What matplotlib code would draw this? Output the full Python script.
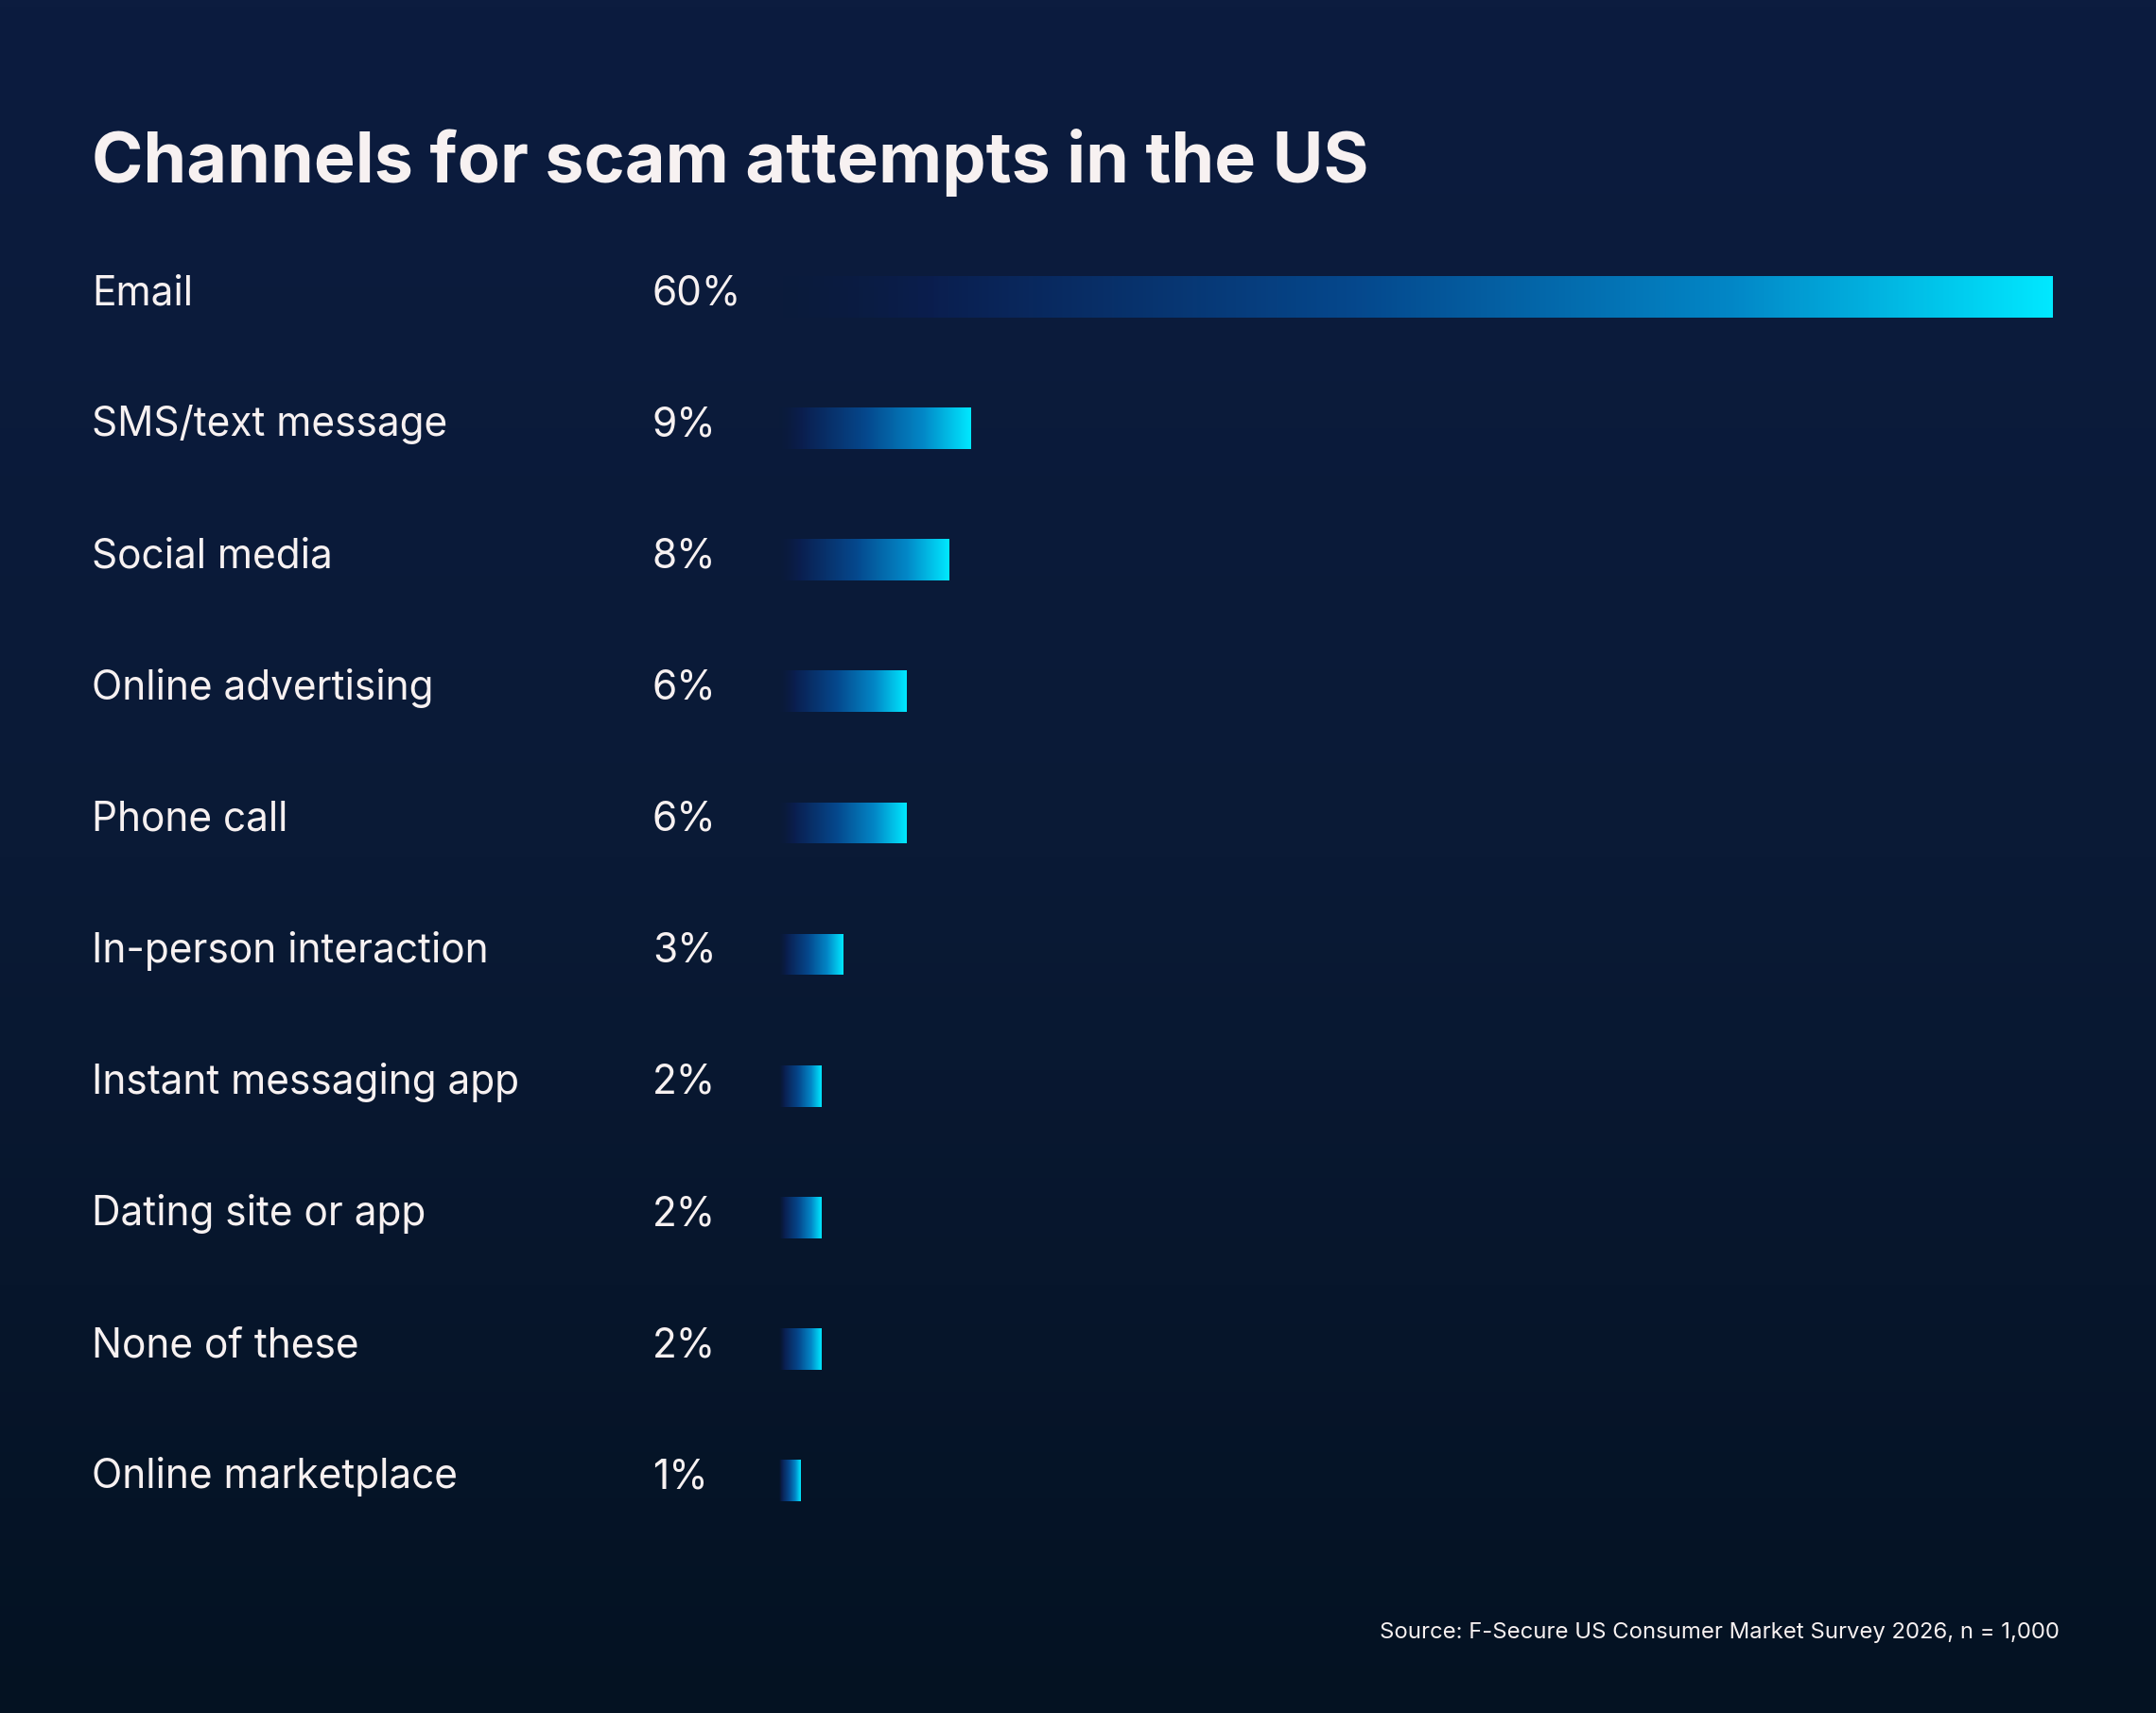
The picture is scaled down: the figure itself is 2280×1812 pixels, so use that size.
import numpy as np
import matplotlib
matplotlib.use("Agg")
import matplotlib.pyplot as plt
from matplotlib.colors import LinearSegmentedColormap
from matplotlib.transforms import blended_transform_factory

categories = ["Email", "SMS/text message", "Social media", "Online advertising",
              "Phone call", "In-person interaction", "Instant messaging app",
              "Dating site or app", "None of these", "Online marketplace"]
values = [60, 9, 8, 6, 6, 3, 2, 2, 2, 1]
value_labels = ["60%", "9%", "8%", "6%", "6%", "3%", "2%", "2%", "2%", "1%"]
title = "Channels for scam attempts in the US"
source = "Source: F-Secure US Consumer Market Survey 2026, n = 1,000"

W, H = 2280, 1812
fig = plt.figure(figsize=(W / 100, H / 100), dpi=100)

# background vertical gradient
bg = fig.add_axes([0, 0, 1, 1])
bg_cmap = LinearSegmentedColormap.from_list("bg", ["#0c1c3f", "#0a1a36", "#041222"])
grad = np.linspace(0, 1, 512).reshape(-1, 1)
bg.imshow(grad, aspect="auto", cmap=bg_cmap, extent=[0, 1, 0, 1], origin="upper")
bg.set_axis_off()

txt_color = "#f7f1f1"
font = "Inter"

fig.text(0.0427, 0.8935, title, fontsize=53, fontweight="bold", color=txt_color,
         family=font, ha="left", va="baseline")

# bar axes
left = 824 / W
width = (2171 - 824) / W
top = 1 - 244.5 / H
height = 1391 / H
ax = fig.add_axes([left, top - height, width, height])
ax.set_axis_off()
ax.patch.set_alpha(0)

y = np.arange(len(categories))
bars = ax.barh(y, values, height=0.315, color="none", edgecolor="none")

bar_cmap = LinearSegmentedColormap.from_list(
    "bar",
    [(0.0, (0.04, 0.11, 0.27, 0.0)),
     (0.12, (0.04, 0.12, 0.31, 1.0)),
     (0.45, (0.02, 0.28, 0.55, 1.0)),
     (0.75, (0.01, 0.53, 0.78, 1.0)),
     (1.0, (0.0, 0.91, 1.0, 1.0))])
hgrad = np.linspace(0, 1, 512).reshape(1, -1)
for b in bars:
    x0, y0 = b.get_x(), b.get_y()
    w, h = b.get_width(), b.get_height()
    im = ax.imshow(hgrad, aspect="auto", cmap=bar_cmap,
                   extent=[x0, x0 + w, y0 + h, y0], interpolation="bilinear", zorder=2)
    im.set_clip_path(b)
ax.set_xlim(0, 60)
ax.set_ylim(len(categories) - 0.5, -0.5)

tr = blended_transform_factory(fig.transFigure, ax.transData)
for i, (cat, lab) in enumerate(zip(categories, value_labels)):
    fig.text(0.0427, i + 0.06, cat, transform=tr,
             fontsize=30.5, color=txt_color, family=font, ha="left", va="baseline")
    fig.text(690 / W, i + 0.06, lab, transform=tr,
             fontsize=30.5, color=txt_color, family=font, ha="left", va="baseline")

fig.text(2178 / W, 0.0436, source, fontsize=17.2, color=txt_color, family=font,
         ha="right", va="baseline")

fig.savefig("out.png", dpi=100, facecolor="#0a1a36")
